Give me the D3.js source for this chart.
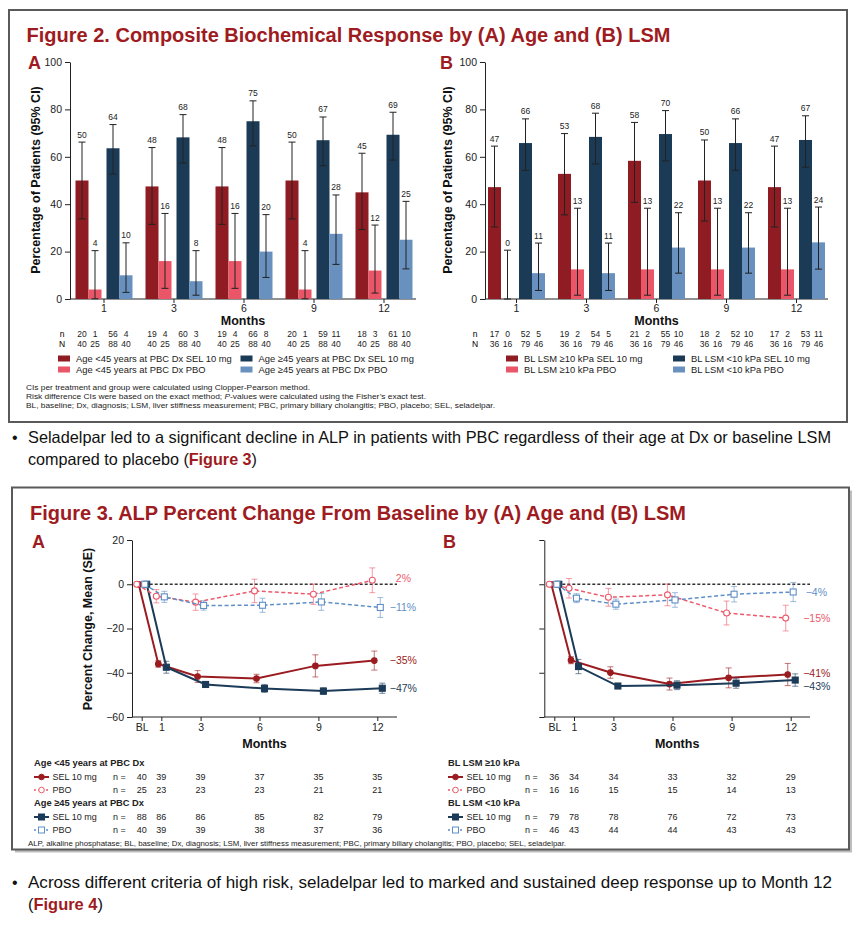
<!DOCTYPE html>
<html>
<head>
<meta charset="utf-8">
<script src="https://cdn.jsdelivr.net/npm/d3@7"></script>
<style>
  body { margin: 0; background: #fff; }
  svg { display: block; }
  text { font-family: "Liberation Sans", Arial, sans-serif; }
</style>
</head>
<body>
<svg id="chart" width="864" height="927"></svg>
<script>
// ---- Figure 2 data ----
var months = ['1', '3', '6', '9', '12'];

var ageSeries = ['Age <45 years at PBC Dx SEL 10 mg', 'Age <45 years at PBC Dx PBO',
                 'Age \u226545 years at PBC Dx SEL 10 mg', 'Age \u226545 years at PBC Dx PBO'];
var agePct  = [[50, 4, 63.6, 10], [47.5, 16, 68.2, 7.5], [47.5, 16, 75, 20], [50, 4, 67, 27.5], [45, 12, 69.3, 25]];
var ageLow  = [[33.8, 0.1, 52.7, 2.8], [31.5, 4.5, 57.4, 1.6], [31.5, 4.5, 64.6, 9.1], [33.8, 0.1, 56.2, 14.6], [29.3, 2.5, 58.6, 12.7]];
var ageHigh = [[66.2, 20.4, 73.6, 23.7], [63.9, 36.1, 77.8, 20.4], [63.9, 36.1, 83.6, 35.6], [66.2, 20.4, 76.8, 43.9], [61.5, 31.2, 78.8, 41.2]];
var ageResp = [[20, 1, 56, 4], [19, 4, 60, 3], [19, 4, 66, 8], [20, 1, 59, 11], [18, 3, 61, 10]];
var ageTotal = [40, 25, 88, 40];

var lsmSeries = ['BL LSM \u226510 kPa SEL 10 mg', 'BL LSM \u226510 kPa PBO',
                 'BL LSM <10 kPa SEL 10 mg', 'BL LSM <10 kPa PBO'];
var lsmPct  = [[47.2, 0, 65.8, 10.9], [52.8, 12.5, 68.4, 10.9], [58.3, 12.5, 69.6, 21.7], [50, 12.5, 65.8, 21.7], [47.2, 12.5, 67.1, 23.9]];
var lsmLow  = [[30.4, 0, 54.3, 3.6], [35.5, 1.6, 57.0, 3.6], [40.8, 1.6, 58.3, 10.9], [32.9, 1.6, 54.3, 10.9], [30.4, 1.6, 55.6, 12.6]];
var lsmHigh = [[64.5, 20.6, 76.0, 23.6], [69.8, 38.3, 78.4, 23.6], [74.5, 38.3, 79.5, 36.4], [67.1, 38.3, 76.0, 36.4], [64.5, 38.3, 77.3, 38.8]];
var lsmResp = [[17, 0, 52, 5], [19, 2, 54, 5], [21, 2, 55, 10], [18, 2, 52, 10], [17, 2, 53, 11]];
var lsmTotal = [36, 16, 79, 46];

// ---- Figure 3 data ----
var visits = ['BL', '1', '3', '6', '9', '12'];
var visitMonth = [0, 1, 3, 6, 9, 12];

var ageSelLt45 = [0, -36, -41.7, -42.6, -36.9, -34.5];
var agePboLt45 = [0, -5.4, -8.1, -3, -4.5, 1.8];
var ageSelGe45 = [0, -37.5, -45.3, -47.1, -48.3, -47];
var agePboGe45 = [0, -5.7, -9.6, -9.5, -8, -10.5];
var ageSelLt45Se = [0, 1.5, 2.7, 1.9, 5, 4.3];
var agePboLt45Se = [0, 3, 3.7, 5.3, 4.6, 5.6];
var ageSelGe45Se = [0, 2.7, 1.2, 1.8, 1.5, 2.3];
var agePboGe45Se = [0, 2.5, 2.1, 3.2, 3.8, 4.5];
var ageEndLabels = ['\u221235%', '2%', '\u221247%', '\u221211%'];

var lsmSelGe10 = [0, -34.3, -39.9, -45.1, -42.3, -40.8];
var lsmPboGe10 = [0, -1.8, -5.9, -4.8, -13, -15.3];
var lsmSelLt10 = [0, -37.2, -46, -45.6, -44.7, -43.3];
var lsmPboLt10 = [0, -6.3, -9, -7.1, -4.5, -3.5];
var lsmSelGe10Se = [0, 1.6, 2.6, 2.7, 4.5, 5];
var lsmPboGe10Se = [0, 4.4, 4, 4.9, 5.4, 5.8];
var lsmSelLt10Se = [0, 3.2, 1, 2, 2.3, 2.8];
var lsmPboLt10Se = [0, 2, 2.3, 3.3, 3.5, 4.3];
var lsmEndLabels = ['\u221241%', '\u221215%', '\u221243%', '\u22124%'];

// n at each visit (table under Figure 3)
var ageSelLt45N = [40, 39, 39, 37, 35, 35];
var agePboLt45N = [25, 23, 23, 23, 21, 21];
var ageSelGe45N = [88, 86, 86, 85, 82, 79];
var agePboGe45N = [40, 39, 39, 38, 37, 36];
var lsmSelGe10N = [36, 34, 34, 33, 32, 29];
var lsmPboGe10N = [16, 16, 15, 15, 14, 13];
var lsmSelLt10N = [79, 78, 78, 76, 72, 73];
var lsmPboLt10N = [46, 43, 44, 44, 43, 43];

var barColors = ['#8f1c22', '#ea5667', '#1a3a56', '#6891c0'];
var lineColors = ['#9b1c20', '#ec5a6c', '#1c3b58', '#5f8fc6'];
var titleRed = '#9e1b21';

var svg = d3.select('#chart');

function fit(sel, w) {
  return sel.attr('textLength', w).attr('lengthAdjust', 'spacingAndGlyphs');
}

function box(x, y, w, h, shadow) {
  if (shadow) {
    svg.append('rect').attr('x', x + 3).attr('y', y + 3).attr('width', w).attr('height', h)
      .attr('fill', '#bdbdbd');
  }
  svg.append('rect').attr('x', x).attr('y', y).attr('width', w).attr('height', h)
    .attr('fill', '#fff').attr('stroke', '#5a5a5a').attr('stroke-width', 2);
}

function styleAxis(g) {
  g.attr('font-family', '"Liberation Sans", Arial, sans-serif').attr('font-size', 10.5);
  g.selectAll('text').attr('fill', '#222');
  g.selectAll('line, path').attr('stroke', '#222');
}

// ---- bar chart panel ----
var barW = 13;
var barOffset = [-28.5, -15.5, 2.5, 15.5];
var yTop = 62, yBase = 299;

function barPanel(o) {
  var x = d3.scaleBand().domain(months).range(o.range);
  var y = d3.scaleLinear().domain([0, 100]).range([yBase, yTop]);
  var g = svg.append('g');

  g.append('g').attr('transform', 'translate(' + o.axisX + ',0)')
    .call(d3.axisLeft(y).tickValues([0, 20, 40, 60, 80, 100]).tickSize(5).tickSizeOuter(0).tickPadding(3))
    .call(styleAxis);

  var xa = g.append('g').attr('transform', 'translate(0,' + yBase + ')')
    .call(d3.axisBottom(x).tickSize(4).tickPadding(2))
    .call(styleAxis);
  xa.select('.domain').remove();
  g.append('line').attr('x1', o.axisX).attr('x2', o.axisEnd).attr('y1', yBase).attr('y2', yBase)
    .attr('stroke', '#222');

  var rows = [];
  months.forEach(function(m, i) {
    o.pct[i].forEach(function(v, j) {
      rows.push({m: m, s: j, v: v, lo: o.low[i][j], hi: o.high[i][j], n: o.resp[i][j], N: o.total[j]});
    });
  });
  function cx(d) { return x(d.m) + x.bandwidth() / 2 + barOffset[d.s] + barW / 2; }

  g.selectAll('rect.bar').data(rows).enter().append('rect')
    .attr('x', function(d) { return cx(d) - barW / 2; })
    .attr('y', function(d) { return y(d.v); })
    .attr('width', barW)
    .attr('height', function(d) { return y(0) - y(d.v); })
    .attr('fill', function(d) { return barColors[d.s]; });

  var eb = g.selectAll('g.err').data(rows).enter().append('g').attr('stroke', '#222').attr('stroke-width', 1);
  eb.append('line').attr('x1', cx).attr('x2', cx)
    .attr('y1', function(d) { return y(d.lo); }).attr('y2', function(d) { return y(d.hi); });
  eb.append('line').attr('x1', function(d) { return cx(d) - 3.5; }).attr('x2', function(d) { return cx(d) + 3.5; })
    .attr('y1', function(d) { return y(d.hi); }).attr('y2', function(d) { return y(d.hi); });
  eb.append('line').attr('x1', function(d) { return cx(d) - 3.5; }).attr('x2', function(d) { return cx(d) + 3.5; })
    .attr('y1', function(d) { return y(d.lo); }).attr('y2', function(d) { return y(d.lo); });

  g.selectAll('text.val').data(rows).enter().append('text')
    .attr('x', cx).attr('y', function(d) { return y(d.hi) - 4.5; })
    .attr('text-anchor', 'middle').attr('font-size', 8.5).attr('fill', '#222')
    .text(function(d) { return Math.round(d.v); });

  // n / N rows
  g.append('text').attr('x', o.nX).attr('y', 337).attr('text-anchor', 'middle').attr('font-size', 8.5).text('n');
  g.append('text').attr('x', o.nX).attr('y', 347).attr('text-anchor', 'middle').attr('font-size', 8.5).text('N');
  g.selectAll('text.n').data(rows).enter().append('text')
    .attr('x', cx).attr('y', 337).attr('text-anchor', 'middle').attr('font-size', 8.5).attr('fill', '#222')
    .text(function(d) { return d.n; });
  g.selectAll('text.N').data(rows).enter().append('text')
    .attr('x', cx).attr('y', 347).attr('text-anchor', 'middle').attr('font-size', 8.5).attr('fill', '#222')
    .text(function(d) { return d.N; });

  g.append('text').attr('x', (o.axisX + o.axisEnd) / 2).attr('y', 325).attr('text-anchor', 'middle')
    .attr('font-size', 12.5).attr('font-weight', 'bold').attr('fill', '#111').text('Months');

  g.append('text').attr('transform', 'translate(' + o.yLabX + ',180) rotate(-90)')
    .attr('text-anchor', 'middle').attr('font-size', 12.5).attr('font-weight', 'bold').attr('fill', '#111')
    .text('Percentage of Patients (95% CI)');

  g.append('text').attr('x', o.letterX).attr('y', 68.5).attr('font-size', 18).attr('font-weight', 'bold')
    .attr('fill', titleRed).text(o.letter);

  // legend: two columns, two rows
  var legPos = [[0, 0], [0, 1], [1, 0], [1, 1]];
  o.names.forEach(function(name, j) {
    var lx = o.legX[legPos[j][0]], ly = 358.5 + legPos[j][1] * 11;
    g.append('rect').attr('x', lx).attr('y', ly - 3).attr('width', 12).attr('height', 6).attr('fill', barColors[j]);
    g.append('text').attr('x', lx + 18).attr('y', ly + 3.3).attr('font-size', 9.4).attr('fill', '#222').text(name);
  });
}

// ---- line chart panel ----
var lyTop = 540, lyBase = 717;

function linePanel(o) {
  var x = d3.scaleLinear().domain([0, 12]).range(o.xr);
  var y = d3.scaleLinear().domain([-60, 20]).range([lyBase, lyTop]);
  var g = svg.append('g');

  var yAxis = d3.axisLeft(y).tickValues([-60, -40, -20, 0, 20]).tickSize(5).tickSizeOuter(0).tickPadding(3);
  if (!o.yLabels) yAxis.tickFormat('');
  g.append('g').attr('transform', 'translate(' + o.axisX + ',0)').call(yAxis).call(styleAxis);

  var xa = g.append('g').attr('transform', 'translate(0,' + lyBase + ')')
    .call(d3.axisBottom(x).tickValues(visitMonth).tickFormat(function(d, i) { return visits[i]; })
      .tickSize(4).tickPadding(3))
    .call(styleAxis);
  xa.select('.domain').remove();
  g.append('line').attr('x1', o.axisX).attr('x2', o.axisEnd).attr('y1', lyBase).attr('y2', lyBase).attr('stroke', '#222');

  // zero reference
  g.append('line').attr('x1', x(0) - 7).attr('x2', o.axisEnd).attr('y1', y(0)).attr('y2', y(0))
    .attr('stroke', '#333').attr('stroke-width', 1.3).attr('stroke-dasharray', '3,2');

  g.append('text').attr('x', (o.axisX + o.axisEnd) / 2).attr('y', 748).attr('text-anchor', 'middle')
    .attr('font-size', 12.5).attr('font-weight', 'bold').attr('fill', '#111').text('Months');
  if (o.yTitle) {
    g.append('text').attr('transform', 'translate(' + o.yLabX + ',629) rotate(-90)')
      .attr('text-anchor', 'middle').attr('font-size', 12.5).attr('font-weight', 'bold').attr('fill', '#111')
      .text(o.yTitle);
  }
  g.append('text').attr('x', o.letterX).attr('y', 548).attr('font-size', 18).attr('font-weight', 'bold')
    .attr('fill', titleRed).text(o.letter);

  // draw order: SEL first, placebo on top
  [0, 2, 1, 3].forEach(function(k) {
    var s = o.series[k];
    var pts = s.mean.map(function(v, i) {
      return {x: x(visitMonth[i]) + s.dx, y: y(v), lo: y(v - s.se[i]), hi: y(v + s.se[i]), se: s.se[i]};
    });
    var sg = g.append('g');
    // error bars
    pts.filter(function(p) { return p.se > 0; }).forEach(function(p) {
      var e = sg.append('g').attr('stroke', lineColors[k]).attr('stroke-opacity', 0.55).attr('stroke-width', 1.1);
      e.append('line').attr('x1', p.x).attr('x2', p.x).attr('y1', p.lo).attr('y2', p.hi);
      e.append('line').attr('x1', p.x - 3).attr('x2', p.x + 3).attr('y1', p.lo).attr('y2', p.lo);
      e.append('line').attr('x1', p.x - 3).attr('x2', p.x + 3).attr('y1', p.hi).attr('y2', p.hi);
    });
    sg.append('path').datum(pts)
      .attr('d', d3.line().x(function(p) { return p.x; }).y(function(p) { return p.y; }))
      .attr('fill', 'none').attr('stroke', lineColors[k])
      .attr('stroke-width', s.pbo ? 1.5 : 2)
      .attr('stroke-dasharray', s.pbo ? '4,2.5' : null);
    pts.forEach(function(p) {
      if (s.square) {
        sg.append('rect').attr('x', p.x - 3).attr('y', p.y - 3).attr('width', 6).attr('height', 6)
          .attr('fill', s.pbo ? '#fff' : lineColors[k]).attr('stroke', lineColors[k]).attr('stroke-width', 1.1);
      } else {
        sg.append('circle').attr('cx', p.x).attr('cy', p.y).attr('r', s.pbo ? 3 : 2.8)
          .attr('fill', s.pbo ? '#fff' : lineColors[k]).attr('stroke', lineColors[k]).attr('stroke-width', 1.1);
      }
    });
    sg.append('text').attr('x', x(12) + 12.5 + (s.labelDx || 0)).attr('y', y(s.mean[5]) + 3.8 + (s.labelDy || 0))
      .attr('font-size', 10.5).attr('fill', lineColors[k]).text(s.label);
  });
}

// ---- n table under Figure 3 ----
function nTable(o) {
  var x = d3.scaleLinear().domain([0, 12]).range(o.xr);
  var g = svg.append('g').attr('font-size', 9).attr('fill', '#222');
  var rowY = [763, 777, 790, 803, 817, 830];
  g.append('text').attr('x', o.x0).attr('y', rowY[0] + 3.2).attr('font-weight', 'bold').attr('font-size', 9.3).text(o.head1);
  g.append('text').attr('x', o.x0).attr('y', rowY[3] + 3.2).attr('font-weight', 'bold').attr('font-size', 9.3).text(o.head2);
  var rows = [[0, rowY[1]], [1, rowY[2]], [2, rowY[4]], [3, rowY[5]]];
  rows.forEach(function(r) {
    var k = r[0], ry = r[1], pbo = (k % 2 === 1), square = (k >= 2);
    g.append('line').attr('x1', o.x0).attr('x2', o.x0 + 15).attr('y1', ry).attr('y2', ry)
      .attr('stroke', lineColors[k]).attr('stroke-width', pbo ? 1.3 : 2).attr('stroke-dasharray', pbo ? '2,2' : null);
    if (square) {
      g.append('rect').attr('x', o.x0 + 4.5).attr('y', ry - 3).attr('width', 6).attr('height', 6)
        .attr('fill', pbo ? '#fff' : lineColors[k]).attr('stroke', lineColors[k]);
    } else {
      g.append('circle').attr('cx', o.x0 + 7.5).attr('cy', ry).attr('r', 2.8)
        .attr('fill', pbo ? '#fff' : lineColors[k]).attr('stroke', lineColors[k]);
    }
    g.append('text').attr('x', o.x0 + 18.5).attr('y', ry + 3.2).text(pbo ? 'PBO' : 'SEL 10 mg');
    g.append('text').attr('x', o.nx).attr('y', ry + 3.2).text('n =');
    g.selectAll(null).data(o.counts[k]).enter().append('text')
      .attr('x', function(d, i) { return x(visitMonth[i]); })
      .attr('y', ry + 3.2).attr('text-anchor', 'middle')
      .text(function(d) { return d; });
  });
}

// ---- layout ----
box(9, 10, 838, 412, false);
box(12, 487.5, 837, 362, true);

fit(svg.append('text').attr('x', 26.5).attr('y', 41.5).attr('font-size', 19.5).attr('font-weight', 'bold')
  .attr('fill', titleRed).text('Figure 2. Composite Biochemical Response by (A) Age and (B) LSM'), 644);

barPanel({
  range: [69, 419], axisX: 70, axisEnd: 416, nX: 62, yLabX: 40, letterX: 28, letter: 'A',
  pct: agePct, low: ageLow, high: ageHigh, resp: ageResp, total: ageTotal,
  names: ageSeries, legX: [58, 240.5]
});
barPanel({
  range: [481.5, 831.5], axisX: 485, axisEnd: 828, nX: 475, yLabX: 452, letterX: 440, letter: 'B',
  pct: lsmPct, low: lsmLow, high: lsmHigh, resp: lsmResp, total: lsmTotal,
  names: lsmSeries, legX: [506, 673]
});

fit(svg.append('text').attr('x', 26).attr('y', 389.5).attr('font-size', 8).attr('fill', '#222')
  .text('CIs per treatment and group were calculated using Clopper-Pearson method.'), 284);
var f2 = svg.append('text').attr('x', 26).attr('y', 398.5).attr('font-size', 8).attr('fill', '#222');
f2.append('tspan').text('Risk difference CIs were based on the exact method; ');
f2.append('tspan').attr('font-style', 'italic').text('P');
f2.append('tspan').text('-values were calculated using the Fisher\u2019s exact test.');
fit(f2, 400);
fit(svg.append('text').attr('x', 26).attr('y', 407.5).attr('font-size', 8).attr('fill', '#222')
  .text('BL, baseline; Dx, diagnosis; LSM, liver stiffness measurement; PBC, primary biliary cholangitis; PBO, placebo; SEL, seladelpar.'), 469);

// bullet 1
svg.append('text').attr('x', 12).attr('y', 442.5).attr('font-size', 16).attr('fill', '#111').text('\u2022');
fit(svg.append('text').attr('x', 28).attr('y', 442.5).attr('font-size', 16.5).attr('fill', '#111')
  .text('Seladelpar led to a significant decline in ALP in patients with PBC regardless of their age at Dx or baseline LSM'), 803);
var b1 = svg.append('text').attr('x', 28).attr('y', 465).attr('font-size', 16.5).attr('fill', '#111');
b1.append('tspan').text('compared to placebo (');
b1.append('tspan').attr('font-weight', 'bold').attr('fill', titleRed).text('Figure 3');
b1.append('tspan').text(')');
fit(b1, 229);

fit(svg.append('text').attr('x', 30).attr('y', 520).attr('font-size', 19.5).attr('font-weight', 'bold')
  .attr('fill', titleRed).text('Figure 3. ALP Percent Change From Baseline by (A) Age and (B) LSM'), 656);

linePanel({
  xr: [141.7, 377.3], axisX: 132, axisEnd: 397, yLabels: true, yTitle: 'Percent Change, Mean (SE)', yLabX: 92,
  letterX: 32, letter: 'A',
  series: [
    {mean: ageSelLt45, se: ageSelLt45Se, dx: -3, pbo: false, square: false, label: ageEndLabels[0]},
    {mean: agePboLt45, se: agePboLt45Se, dx: -5, pbo: true, square: false, label: ageEndLabels[1], labelDx: 6, labelDy: -2},
    {mean: ageSelGe45, se: ageSelGe45Se, dx: 5, pbo: false, square: true, label: ageEndLabels[2]},
    {mean: agePboGe45, se: agePboGe45Se, dx: 3, pbo: true, square: true, label: ageEndLabels[3]}
  ]
});
linePanel({
  xr: [554.3, 790.7], axisX: 544.3, axisEnd: 810, yLabels: false, letterX: 443, letter: 'B',
  series: [
    {mean: lsmSelGe10, se: lsmSelGe10Se, dx: -3, pbo: false, square: false, label: lsmEndLabels[0], labelDy: -1},
    {mean: lsmPboGe10, se: lsmPboGe10Se, dx: -5, pbo: true, square: false, label: lsmEndLabels[1]},
    {mean: lsmSelLt10, se: lsmSelLt10Se, dx: 4.5, pbo: false, square: true, label: lsmEndLabels[2], labelDy: 6},
    {mean: lsmPboLt10, se: lsmPboLt10Se, dx: 2.5, pbo: true, square: true, label: lsmEndLabels[3], labelDx: 2.5}
  ]
});

nTable({xr: [141.7, 377.3], x0: 34, nx: 113, head1: 'Age <45 years at PBC Dx', head2: 'Age \u226545 years at PBC Dx',
  counts: [ageSelLt45N, agePboLt45N, ageSelGe45N, agePboGe45N]});
nTable({xr: [554.3, 790.7], x0: 448, nx: 525, head1: 'BL LSM \u226510 kPa', head2: 'BL LSM <10 kPa',
  counts: [lsmSelGe10N, lsmPboGe10N, lsmSelLt10N, lsmPboLt10N]});

fit(svg.append('text').attr('x', 28).attr('y', 845.5).attr('font-size', 8).attr('fill', '#222')
  .text('ALP, alkaline phosphatase; BL, baseline; Dx, diagnosis; LSM, liver stiffness measurement; PBC, primary biliary cholangitis; PBO, placebo; SEL, seladelpar.'), 538);

// bullet 2
svg.append('text').attr('x', 12).attr('y', 888).attr('font-size', 16).attr('fill', '#111').text('\u2022');
fit(svg.append('text').attr('x', 28).attr('y', 888).attr('font-size', 16.5).attr('fill', '#111')
  .text('Across different criteria of high risk, seladelpar led to marked and sustained deep response up to Month 12'), 804);
var b2 = svg.append('text').attr('x', 28).attr('y', 910).attr('font-size', 16.5).attr('fill', '#111');
b2.append('tspan').text('(');
b2.append('tspan').attr('font-weight', 'bold').attr('fill', titleRed).text('Figure 4');
b2.append('tspan').text(')');
fit(b2, 75);
</script>
</body>
</html>
